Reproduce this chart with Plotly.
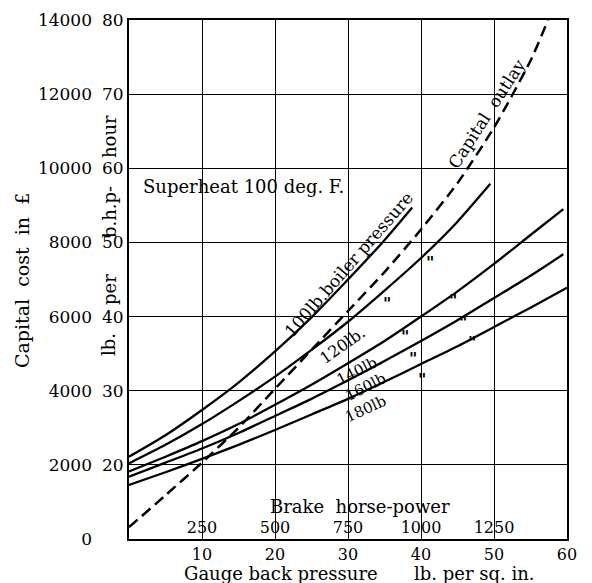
import plotly.graph_objects as go

# ---------------- data ----------------
# Gauge back pressure, lb per sq. in. (x) vs steam consumption lb per b.h.p.-hour (y)
p100 = [0, 5, 10, 15, 20, 25, 30, 35, 38.8]
v100 = [21.1, 24.0, 27.4, 31.1, 35.3, 39.9, 45.0, 50.3, 54.7]

p120 = [0, 5, 10, 15, 20, 25, 30, 35, 40, 45, 49.5]
v120 = [20.2, 22.7, 25.5, 28.6, 31.9, 35.5, 39.3, 43.5, 47.9, 52.8, 57.9]

p140 = [0, 5, 10, 15, 20, 25, 30, 35, 40, 45, 50, 55, 59.5]
v140 = [19.1, 21.1, 23.2, 25.5, 28.1, 30.8, 33.7, 36.7, 40.0, 43.4, 47.1, 51.0, 54.5]

p160 = [0, 5, 10, 15, 20, 25, 30, 35, 40, 45, 50, 55, 59.5]
v160 = [18.4, 20.3, 22.2, 24.3, 26.6, 28.9, 31.4, 34.0, 36.7, 39.5, 42.5, 45.5, 48.4]

p180 = [0, 5, 10, 15, 20, 25, 30, 35, 40, 45, 50, 55, 60]
v180 = [17.3, 19.0, 20.8, 22.7, 24.7, 26.8, 28.9, 31.2, 33.6, 36.0, 38.6, 41.2, 43.9]

# Capital outlay in pounds
p_cap = [0, 5, 10, 15, 20, 25, 30, 35, 40, 45, 50, 55, 57.4]
capital = [320, 1180, 2060, 3000, 4050, 5100, 6150, 7200, 8350, 9600, 11100, 12900, 14000]

# tick labels
pressure_ticks = [10, 20, 30, 40, 50, 60]
bhp_ticks = [250, 500, 750, 1000, 1250, 1500]
lb_ticks = [10, 20, 30, 40, 50, 60, 70, 80]
cost_ticks = [0, 2000, 4000, 6000, 8000, 10000, 12000, 14000]

# ---------------- layout helpers ----------------
OFF = 8                       # page body margin of the browser
W, H = 584, 575
ML, MR, MT, MB = 84, 25, 12, 44
PLOT_LEFT = 129               # reference-pixel position of the left frame
FONT = "DejaVu Serif"

def px_x(px):
    return (px - OFF - ML) / (W - ML - MR)

def px_y(py):
    return (H - MB - (py - OFF)) / (H - MB - MT)

fig = go.Figure()

line_style = dict(color="black", width=2.3, shape="spline", smoothing=0.6)
for px_, vy_ in [(p100, v100), (p120, v120), (p140, v140), (p160, v160), (p180, v180)]:
    fig.add_trace(go.Scatter(x=px_, y=vy_, mode="lines", line=line_style,
                             showlegend=False, hoverinfo="skip"))

fig.add_trace(go.Scatter(x=p_cap, y=capital, yaxis="y2", mode="lines",
                         line=dict(color="black", width=2.5, dash="11px,6px",
                                   shape="spline", smoothing=0.6),
                         showlegend=False, hoverinfo="skip"))

# invisible trace to carry the brake-horse-power axis
fig.add_trace(go.Scatter(x=[bhp_ticks[0], bhp_ticks[-1]], y=[None, None], xaxis="x2",
                         mode="lines", showlegend=False, hoverinfo="skip"))

tick_font = dict(family=FONT, size=17, color="black")
xtick_font = dict(family=FONT, size=16, color="black")
bhp_font = dict(family=FONT, size=16, color="black")

fig.update_layout(
    template="none",
    width=W, height=H,
    margin=dict(l=ML, r=MR, t=MT, b=MB, pad=0),
    paper_bgcolor="white", plot_bgcolor="white",
    font=dict(family=FONT, color="black"),
    xaxis=dict(domain=[px_x(PLOT_LEFT), 1], range=[0, 60], tickvals=pressure_ticks,
               ticktext=[str(t) for t in pressure_ticks],
               ticks="", showgrid=True, gridcolor="black", gridwidth=1,
               showline=True, linecolor="black", linewidth=2, mirror=True,
               zeroline=False, tickfont=xtick_font, automargin=False),
    xaxis2=dict(overlaying="x", anchor="y", side="bottom", range=[0, 1500],
                tickvals=bhp_ticks, ticktext=[str(t) for t in bhp_ticks],
                ticks="", ticklabelposition="inside",
                showgrid=False, showline=False, zeroline=False, tickfont=bhp_font,
                automargin=False),
    yaxis=dict(range=[10, 80], tickvals=lb_ticks, ticktext=[str(t) for t in lb_ticks],
               ticks="", showgrid=True,
               gridcolor="black", gridwidth=1, showline=True, linecolor="black",
               linewidth=2, mirror=True, zeroline=False, tickfont=tick_font,
               automargin=False),
    yaxis2=dict(overlaying="y", anchor="free", position=0, side="left",
                range=[0, 14000], tickvals=cost_ticks,
                ticktext=[str(t) for t in cost_ticks], ticks="", showgrid=False,
                showline=False, zeroline=False, tickfont=tick_font, automargin=False),
)

ann = []
def add(text, x, y, xref="x", yref="y", angle=0, size=16, xanchor="center"):
    ann.append(dict(text=text, x=x, y=y, xref=xref, yref=yref, textangle=angle,
                    showarrow=False, xanchor=xanchor, yanchor="middle",
                    font=dict(family=FONT, size=size, color="black")))

# axis titles
add("Capital\u00a0 cost\u00a0 in\u00a0 £", px_x(22), px_y(281), "paper", "paper", -90, 19)
# the inner title is split so that its words sit between the tick labels
for word, yc in [("lb.", 345), ("per", 290), ("b.h.p-", 212), ("hour", 137)]:
    add(word, px_x(109), px_y(yc), "paper", "paper", -90, 18)
add("Gauge back pressure", px_x(281), px_y(573), "paper", "paper", 0, 18)
add("lb. per sq. in.", px_x(474), px_y(573), "paper", "paper", 0, 18)
add("Brake\u00a0 horse-power", 31.6, 14.4, size=18)

# curve labels
add("Superheat 100 deg. F.", 1.7, 57.6, size=18, xanchor="left")
add("100lb.boiler pressure", 30.0, 47.0, angle=-49, size=17)
add("Capital\u00a0 outlay", 49.0, 67.3, angle=-57, size=17)
add("120lb.", 29.2, 36.1, angle=-35, size=16)
add("140lb.", 31.5, 32.8, angle=-27, size=15)
add("160lb.", 32.7, 30.6, angle=-27, size=15)
add("180lb", 32.4, 27.6, angle=-25, size=15)

# ditto marks
for xx, yy in [(35.4, 41.8), (41.2, 47.3), (44.4, 42.2), (37.8, 37.3),
               (45.7, 39.2), (38.9, 34.3), (47.0, 36.5), (40.1, 31.5)]:
    add('<b>"</b>', xx, yy, size=16)

fig.update_layout(annotations=ann)
fig.write_html("out.html")
